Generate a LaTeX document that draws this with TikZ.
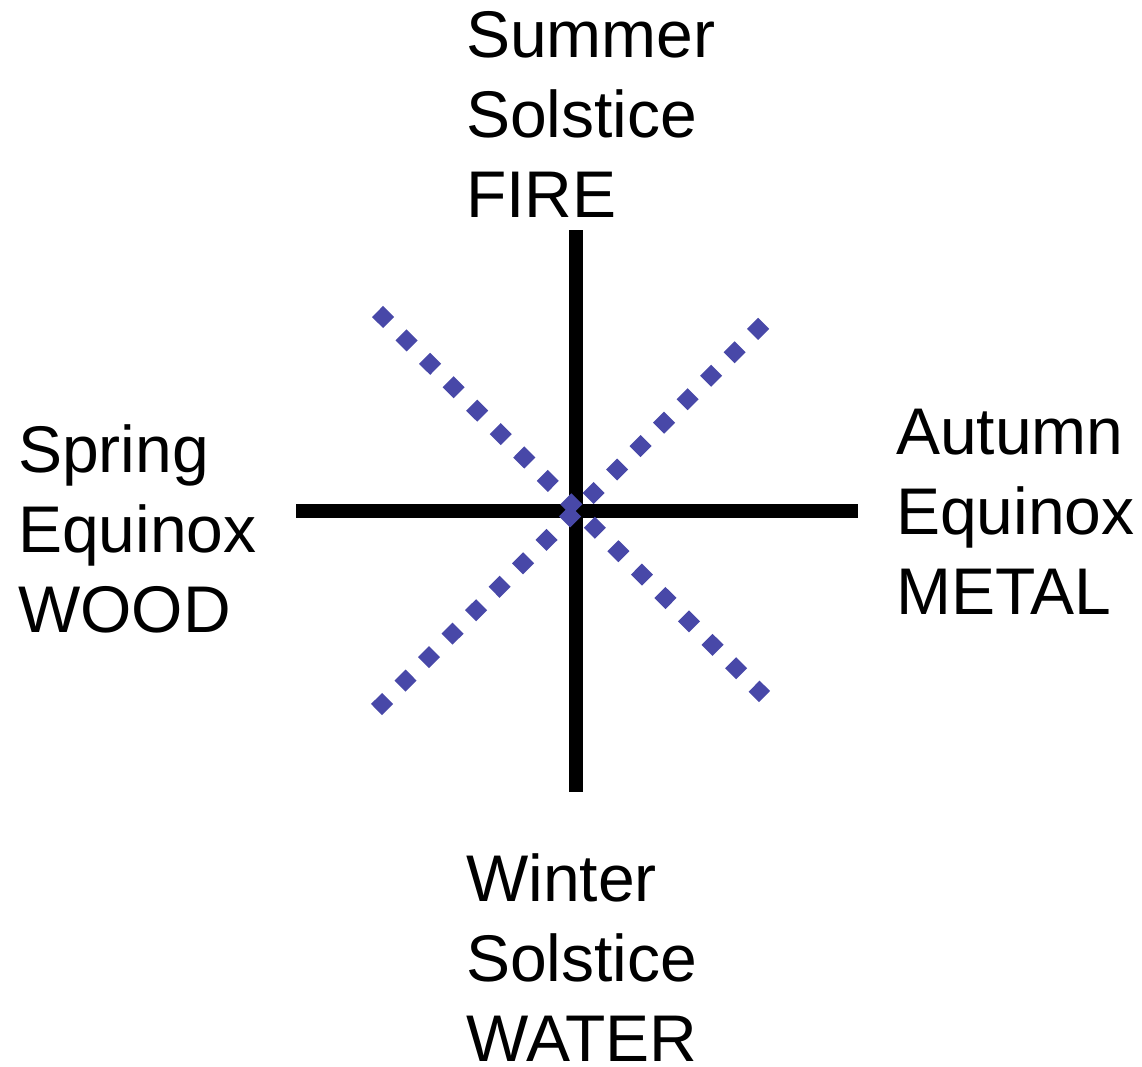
\documentclass[tikz,border=0pt]{standalone}
\usepackage{fontspec}
\setmainfont{Liberation Sans}
\definecolor{dotblue}{RGB}{72,72,168}
\begin{document}
\begin{tikzpicture}[x=1pt,y=-1pt,
  lbl/.style={anchor=base west,inner sep=0pt,align=left,
    font=\fontsize{66}{80}\selectfont},
  axis/.style={line width=14pt,black},
  diag/.style={line width=15.6pt,dotblue,line cap=butt,dash pattern=on 15.6pt off 17.6pt}]
\useasboundingbox (0,0) rectangle (1142,1066);
\coordinate (top) at (576,230);
\coordinate (bot) at (576,792);
\coordinate (lft) at (296,511);
\coordinate (rgt) at (858,511);
\coordinate (nw) at (377.5,311.5);
\coordinate (se) at (764.5,696.5);
\coordinate (sw) at (376.5,709.5);
\coordinate (ne) at (764.5,322.5);
\draw[axis] (top) -- (bot);
\draw[axis] (lft) -- (rgt);
\draw[diag] (nw) -- (se);
\draw[diag] (sw) -- (ne);
\node[lbl] (summer) at (466,217) {Summer\\Solstice\\FIRE};
\node[lbl] (spring) at (18,632) {Spring\\Equinox\\WOOD};
\node[lbl] (autumn) at (896,614) {Autumn\\Equinox\\METAL};
\node[lbl] (winter) at (466,1061) {Winter\\Solstice\\WATER};
\end{tikzpicture}
\end{document}
